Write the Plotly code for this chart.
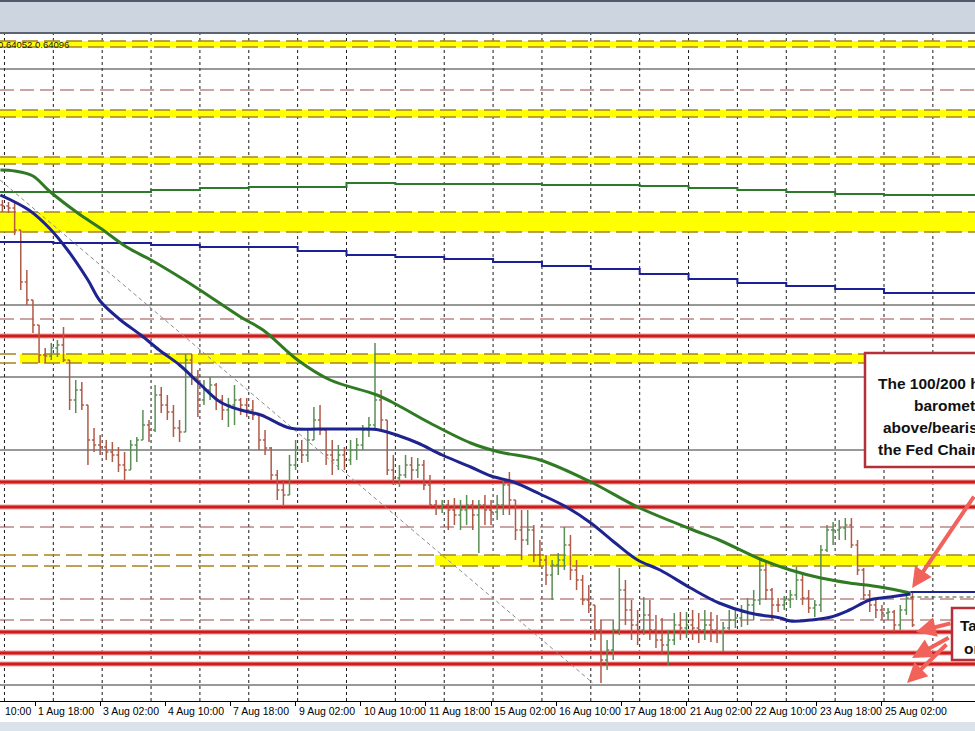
import plotly.graph_objects as go

# ---------------- DATA ----------------
# x axis unit: hours since "1 Aug 18:00" (bar index in hours, weekends skipped like MT4)
bar_hours = list(range(-16, 432, 3))  # 3-hour bars, 150 bars

first_open = 0.6795
highs = [0.6800, 0.6798, 0.6797, 0.6770, 0.6730, 0.6700, 0.6675, 0.6652, 0.6657, 0.6660,
         0.6673, 0.6640, 0.6620, 0.6618, 0.6592, 0.6572, 0.6565, 0.6560, 0.6558, 0.6553,
         0.6548, 0.6560, 0.6563, 0.6590, 0.6580, 0.6615, 0.6613, 0.6605, 0.6595, 0.6580,
         0.6646, 0.6646, 0.6630, 0.6620, 0.6623, 0.6617, 0.6605, 0.6602, 0.6615, 0.6602,
         0.6602, 0.6600, 0.6587, 0.6570, 0.6553, 0.6530, 0.6520, 0.6545, 0.6560, 0.6560,
         0.6570, 0.6593, 0.6595, 0.6570, 0.6560, 0.6555, 0.6553, 0.6560, 0.6562, 0.6575,
         0.6583, 0.6657, 0.6610, 0.6580, 0.6545, 0.6535, 0.6545, 0.6543, 0.6542, 0.6540,
         0.6525, 0.6500, 0.6500, 0.6500, 0.6502, 0.6500, 0.6505, 0.6500, 0.6500, 0.6505,
         0.6500, 0.6505, 0.6522, 0.6528, 0.6500, 0.6490, 0.6490, 0.6475, 0.6460, 0.6445,
         0.6440, 0.6447, 0.6473, 0.6465, 0.6440, 0.6425, 0.6415, 0.6395, 0.6380, 0.6360,
         0.6380, 0.6432, 0.6420, 0.6400, 0.6390, 0.6403, 0.6400, 0.6385, 0.6382, 0.6370,
         0.6387, 0.6388, 0.6388, 0.6390, 0.6387, 0.6390, 0.6388, 0.6385, 0.6378, 0.6390,
         0.6392, 0.6395, 0.6402, 0.6410, 0.6440, 0.6440, 0.6412, 0.6402, 0.6404, 0.6410,
         0.6433, 0.6425, 0.6410, 0.6400, 0.6455, 0.6475, 0.6478, 0.6480, 0.6482, 0.6482,
         0.6460, 0.6432, 0.6410, 0.6400, 0.6395, 0.6392, 0.6390, 0.6395, 0.6405, 0.6407]
lows = [0.6788, 0.6787, 0.6765, 0.6710, 0.6695, 0.6667, 0.6637, 0.6637, 0.6640, 0.6643,
        0.6638, 0.6590, 0.6587, 0.6590, 0.6535, 0.6548, 0.6545, 0.6540, 0.6538, 0.6528,
        0.6520, 0.6530, 0.6538, 0.6560, 0.6558, 0.6568, 0.6587, 0.6580, 0.6563, 0.6558,
        0.6568, 0.6615, 0.6583, 0.6595, 0.6600, 0.6590, 0.6580, 0.6573, 0.6575, 0.6585,
        0.6583, 0.6580, 0.6550, 0.6545, 0.6520, 0.6500, 0.6495, 0.6505, 0.6530, 0.6537,
        0.6538, 0.6560, 0.6565, 0.6535, 0.6525, 0.6530, 0.6530, 0.6535, 0.6540, 0.6550,
        0.6563, 0.6570, 0.6570, 0.6525, 0.6515, 0.6513, 0.6522, 0.6520, 0.6522, 0.6510,
        0.6493, 0.6485, 0.6487, 0.6470, 0.6475, 0.6470, 0.6475, 0.6470, 0.6447, 0.6475,
        0.6475, 0.6480, 0.6485, 0.6485, 0.6460, 0.6440, 0.6455, 0.6438, 0.6433, 0.6415,
        0.6400, 0.6425, 0.6430, 0.6420, 0.6410, 0.6395, 0.6387, 0.6360, 0.6317, 0.6330,
        0.6340, 0.6365, 0.6375, 0.6360, 0.6355, 0.6365, 0.6360, 0.6352, 0.6345, 0.6335,
        0.6355, 0.6360, 0.6362, 0.6360, 0.6357, 0.6360, 0.6358, 0.6357, 0.6348, 0.6370,
        0.6372, 0.6373, 0.6375, 0.6380, 0.6395, 0.6400, 0.6380, 0.6388, 0.6390, 0.6392,
        0.6400, 0.6395, 0.6387, 0.6383, 0.6388, 0.6448, 0.6455, 0.6460, 0.6460, 0.6452,
        0.6425, 0.6400, 0.6388, 0.6382, 0.6380, 0.6380, 0.6368, 0.6370, 0.6385, 0.6373]
closes = [0.6794, 0.6792, 0.6770, 0.6718, 0.6700, 0.6675, 0.6645, 0.6644, 0.6652, 0.6655,
          0.6640, 0.6600, 0.6610, 0.6595, 0.6560, 0.6555, 0.6553, 0.6548, 0.6545, 0.6535,
          0.6530, 0.6555, 0.6560, 0.6575, 0.6570, 0.6605, 0.6595, 0.6588, 0.6572, 0.6568,
          0.6640, 0.6622, 0.6600, 0.6610, 0.6615, 0.6600, 0.6590, 0.6595, 0.6600, 0.6595,
          0.6590, 0.6585, 0.6560, 0.6552, 0.6525, 0.6510, 0.6505, 0.6535, 0.6550, 0.6545,
          0.6560, 0.6580, 0.6570, 0.6545, 0.6540, 0.6545, 0.6540, 0.6550, 0.6555, 0.6570,
          0.6575, 0.6600, 0.6580, 0.6530, 0.6522, 0.6525, 0.6535, 0.6530, 0.6535, 0.6515,
          0.6495, 0.6492, 0.6495, 0.6490, 0.6485, 0.6490, 0.6495, 0.6485, 0.6495, 0.6490,
          0.6488, 0.6495, 0.6515, 0.6500, 0.6470, 0.6460, 0.6470, 0.6445, 0.6440, 0.6425,
          0.6435, 0.6440, 0.6455, 0.6430, 0.6420, 0.6400, 0.6395, 0.6370, 0.6340, 0.6350,
          0.6370, 0.6410, 0.6390, 0.6375, 0.6370, 0.6385, 0.6370, 0.6360, 0.6355, 0.6360,
          0.6375, 0.6372, 0.6375, 0.6372, 0.6370, 0.6375, 0.6370, 0.6368, 0.6372, 0.6380,
          0.6382, 0.6388, 0.6395, 0.6400, 0.6430, 0.6410, 0.6395, 0.6395, 0.6400, 0.6405,
          0.6420, 0.6402, 0.6392, 0.6395, 0.6450, 0.6470, 0.6470, 0.6472, 0.6475, 0.6455,
          0.6430, 0.6405, 0.6395, 0.6390, 0.6387, 0.6388, 0.6375, 0.6390, 0.6402, 0.6375]

# hourly 100 MA (blue) and 200 MA (green), read at points along the curves
ma100_hours = [-17, -3, 7, 16, 26, 32, 42, 52, 61, 71, 81, 91, 101, 111, 125, 140, 160, 169,
               179, 188, 200, 214, 224, 235, 248, 261, 273, 285, 296, 307, 322, 336, 351, 366,
               371, 381, 391, 400, 410, 420, 430]
ma100_vals = [0.6805, 0.6790, 0.6772, 0.6750, 0.6720, 0.6699, 0.6680, 0.6665, 0.6650, 0.6635,
              0.6616, 0.6598, 0.6590, 0.6585, 0.6572, 0.6571, 0.6571, 0.6570, 0.6564, 0.6557,
              0.6545, 0.6533, 0.6524, 0.6518, 0.6506, 0.6493, 0.6477, 0.6457, 0.6440, 0.6430,
              0.6412, 0.6397, 0.6387, 0.6382, 0.6379, 0.6380, 0.6383, 0.6390, 0.6400, 0.6403,
              0.6406]
ma200_hours = [-17, -10, -1, 7, 21, 32, 45, 57, 71, 81, 101, 112, 129, 145, 168, 178, 194, 214,
               228, 248, 273, 296, 322, 336, 356, 371, 386, 400, 415, 430]
ma200_vals = [0.6830, 0.6829, 0.6824, 0.6809, 0.6787, 0.6772, 0.6753, 0.6740, 0.6723, 0.6710,
              0.6683, 0.6670, 0.6640, 0.6620, 0.6605, 0.6595, 0.6577, 0.6557, 0.6548, 0.6540,
              0.6518, 0.6493, 0.6471, 0.6460, 0.6441, 0.6430, 0.6422, 0.6417, 0.6413, 0.6407]

# longer-term (4-hour) MAs, stepping once per day
long_hours = [-17.2, -15, 9, 33, 57, 81, 105, 129, 153, 177, 201, 225, 249, 273, 297, 321,
              345, 369, 393, 417, 441, 462]
long_green = [0.6808, 0.6808, 0.6808, 0.6808, 0.6810, 0.6812, 0.6813, 0.6813, 0.6817, 0.6816,
              0.6816, 0.6816, 0.6815, 0.6815, 0.6814, 0.6812, 0.6810, 0.6808, 0.6806, 0.6805,
              0.6805, 0.6805]
long_blue = [0.6758, 0.6758, 0.6757, 0.6757, 0.6755, 0.6753, 0.6753, 0.6749, 0.6745, 0.6743,
             0.6741, 0.6738, 0.6734, 0.6731, 0.6726, 0.6721, 0.6717, 0.6714, 0.6711, 0.6707,
             0.6707, 0.6707]

# trend line (two anchor points)
trend_hours = [-17.2, 274]
trend_vals = [0.6820, 0.6317]

# horizontal levels
red_levels = [0.6664, 0.6518, 0.6493, 0.6368, 0.6347, 0.6336]
black_levels = [0.6931, 0.6695, 0.6623, 0.6550, 0.6315]
dashed_levels = [0.6910, 0.6681, 0.6473, 0.6401, 0.6380]
# yellow zones: (top, bottom, start hour)
yellow_top = [0.6959, 0.6890, 0.6843, 0.6788, 0.6646, 0.6445]
yellow_bot = [0.6953, 0.6883, 0.6836, 0.6768, 0.6637, 0.6434]
yellow_start = [-17.2, -17.2, -17.2, -17.2, -7.4, 196.5]

# x-axis labels (every 32 hours) and daily grid
tick_hours = [0, 32, 64, 96, 128, 160, 192, 224, 256, 288, 320, 352, 384, 416]
tick_labels = ["1 Aug 18:00", "3 Aug 02:00", "4 Aug 10:00", "7 Aug 18:00", "9 Aug 02:00",
               "10 Aug 10:00", "11 Aug 18:00", "15 Aug 02:00", "16 Aug 10:00", "17 Aug 18:00",
               "21 Aug 02:00", "22 Aug 10:00", "23 Aug 18:00", "25 Aug 02:00"]
grid_hours = [-15, 9, 33, 57, 81, 105, 129, 153, 177, 201, 225, 249, 273, 297, 321, 345,
              369, 393, 417, 441]

# ---------------- FIGURE ----------------
X0, X1 = -17.19, 461.7
Y0, Y1 = 0.6299, 0.6966
PLOT_H = 667.0

opens = [first_open] + closes[:-1]
hi = [max(h, o, c) for h, o, c in zip(highs, opens, closes)]
lo = [min(l, o, c) for l, o, c in zip(lows, opens, closes)]

fig = go.Figure()

shapes = []
for g in grid_hours:
    shapes.append(dict(type="line", xref="x", yref="paper", x0=g, x1=g, y0=0, y1=1,
                       line=dict(color="#1a1a1a", width=1, dash="3px,3px"), layer="below"))
for t, b, s in zip(yellow_top, yellow_bot, yellow_start):
    shapes.append(dict(type="rect", xref="x", yref="y", x0=s, x1=X1, y0=b, y1=t,
                       fillcolor="#ffff00", line=dict(width=0), layer="below"))
    for v in (t, b):
        shapes.append(dict(type="line", xref="x", yref="y", x0=X0, x1=X1, y0=v, y1=v,
                           line=dict(color="#a8841c", width=1.5, dash="16px,6px"), layer="below"))
for v in black_levels:
    shapes.append(dict(type="line", xref="x", yref="y", x0=X0, x1=X1, y0=v, y1=v,
                       line=dict(color="#333333", width=1), layer="below"))
for v in dashed_levels:
    shapes.append(dict(type="line", xref="x", yref="y", x0=X0, x1=X1, y0=v, y1=v,
                       line=dict(color="#9a4848", width=1, dash="14px,6px"), layer="below"))
for v in red_levels:
    shapes.append(dict(type="line", xref="x", yref="y", x0=X0, x1=X1, y0=v, y1=v,
                       line=dict(color="#f2a0a0", width=5), layer="below"))
    shapes.append(dict(type="line", xref="x", yref="y", x0=X0, x1=X1, y0=v, y1=v,
                       line=dict(color="#cc1c1c", width=3), layer="below"))

# window chrome (top title strip, bottom strip)
shapes.append(dict(type="rect", xref="paper", yref="paper", x0=0, x1=1, y0=1.0, y1=1 + 34 / PLOT_H,
                   fillcolor="#cdd5e0", line=dict(width=0), layer="above"))
shapes.append(dict(type="line", xref="paper", yref="paper", x0=0, x1=1, y0=1 + 1 / PLOT_H, y1=1 + 1 / PLOT_H,
                   line=dict(color="#5a6472", width=2), layer="above"))
shapes.append(dict(type="line", xref="paper", yref="paper", x0=0, x1=1, y0=1 + 33 / PLOT_H, y1=1 + 33 / PLOT_H,
                   line=dict(color="#4e5a6a", width=2), layer="above"))
shapes.append(dict(type="rect", xref="paper", yref="paper", x0=0, x1=1, y0=-30 / PLOT_H, y1=-21 / PLOT_H,
                   fillcolor="#dbe2ea", line=dict(width=0), layer="above"))

# annotation boxes
shapes.append(dict(type="rect", xref="paper", yref="y", x0=865 / 975, x1=1.2, y0=0.6533, y1=0.6647,
                   fillcolor="white", line=dict(color="#b5303a", width=2.5), layer="above"))
shapes.append(dict(type="rect", xref="paper", yref="y", x0=952 / 975, x1=1.2, y0=0.6340, y1=0.6392,
                   fillcolor="white", line=dict(color="#b5303a", width=2.5), layer="above"))

fig.add_trace(go.Scatter(x=long_hours, y=long_green, mode="lines", line_shape="hv",
                         line=dict(color="#2d7a2d", width=2), hoverinfo="skip"))
fig.add_trace(go.Scatter(x=long_hours, y=long_blue, mode="lines", line_shape="hv",
                         line=dict(color="#1b1f9a", width=2), hoverinfo="skip"))
fig.add_trace(go.Scatter(x=trend_hours, y=trend_vals, mode="lines",
                         line=dict(color="#8c8c8c", width=1, dash="4px,3px"), hoverinfo="skip"))
fig.add_trace(go.Ohlc(x=bar_hours, open=opens, high=hi, low=lo, close=closes,
                      increasing=dict(line=dict(color="#5a8f55", width=1.5)),
                      decreasing=dict(line=dict(color="#b05a48", width=1.5)),
                      tickwidth=0.35, hoverinfo="skip"))
fig.add_trace(go.Scatter(x=ma200_hours, y=ma200_vals, mode="lines", line_shape="spline",
                         line=dict(color="#2f7a22", width=3), hoverinfo="skip"))
fig.add_trace(go.Scatter(x=ma100_hours, y=ma100_vals, mode="lines", line_shape="spline",
                         line=dict(color="#1e248f", width=3), hoverinfo="skip"))
fig.add_trace(go.Scatter(x=[ma100_hours[-1], X1], y=[0.6408, 0.6408], mode="lines",
                         line=dict(color="#1e248f", width=2), hoverinfo="skip"))
fig.add_trace(go.Scatter(x=[ma200_hours[-1], X1], y=[0.6403, 0.6403], mode="lines",
                         line=dict(color="#2f5a22", width=1, dash="4px,3px"), hoverinfo="skip"))

annotations = []
annotations.append(dict(xref="paper", yref="y", x=-4 / 975, y=0.6956, xanchor="left", yanchor="middle",
                        text="0.64052 0.64096", showarrow=False,
                        font=dict(family="Liberation Sans", size=9.5, color="#222222")))
# x-axis labels, left-aligned at their tick marks (MT4 style)
label_y = -10 / PLOT_H
annotations.append(dict(xref="paper", yref="paper", x=3 / 975, y=label_y, xanchor="left", yanchor="middle",
                        text="10:00", showarrow=False,
                        font=dict(family="Liberation Sans", size=10.5, color="black")))
for th, tl in zip(tick_hours, tick_labels):
    annotations.append(dict(xref="x", yref="paper", x=th, y=label_y, xanchor="left", yanchor="middle",
                            xshift=1, text=tl, showarrow=False,
                            font=dict(family="Liberation Sans", size=10.5, color="black")))

box_lines = [("The 100/200 hour MAs are the", 876, 0.6617),
             ("barometer. Bullish", 912, 0.6595),
             ("above/bearish below after", 881, 0.6573),
             ("the Fed Chair speech", 876, 0.6551),
             ("Targets", 958, 0.6375),
             ("on the downside", 962, 0.6352)]
for txt, px, yv in box_lines:
    annotations.append(dict(xref="paper", yref="y", x=px / 975, y=yv, xanchor="left", yanchor="middle",
                            text="<b>" + txt + "</b>", showarrow=False,
                            font=dict(family="Liberation Sans", size=15.5, color="#111111")))
arrows = [(430.8, 0.6412, 73, -93), (432.7, 0.6368, 36, -9), (430.8, 0.6342, 38, -21),
          (428.3, 0.6317, 41, -40)]
for ax_h, ay_p, dx, dy in arrows:
    annotations.append(dict(xref="x", yref="y", x=ax_h, y=ay_p, ax=dx, ay=dy, text="",
                            showarrow=True, arrowhead=2, arrowsize=1, arrowwidth=4,
                            arrowcolor="#f0625a"))

fig.update_layout(
    width=975, height=731,
    margin=dict(l=0, r=0, t=34, b=30),
    paper_bgcolor="white", plot_bgcolor="white",
    showlegend=False,
    shapes=shapes, annotations=annotations,
    xaxis=dict(range=[X0, X1], showgrid=False, zeroline=False, tickmode="array",
               tickvals=tick_hours, ticktext=tick_labels, showticklabels=False,
               ticks="outside", ticklen=4, tickcolor="black",
               showline=True, linecolor="black", linewidth=1,
               rangeslider=dict(visible=False), fixedrange=True),
    yaxis=dict(range=[Y0, Y1], showgrid=False, zeroline=False, showticklabels=False,
               ticks="", fixedrange=True),
)

fig.write_html("out.html", config={"displayModeBar": False},
               post_script="document.body.style.margin='0';document.body.style.overflow='hidden';")
